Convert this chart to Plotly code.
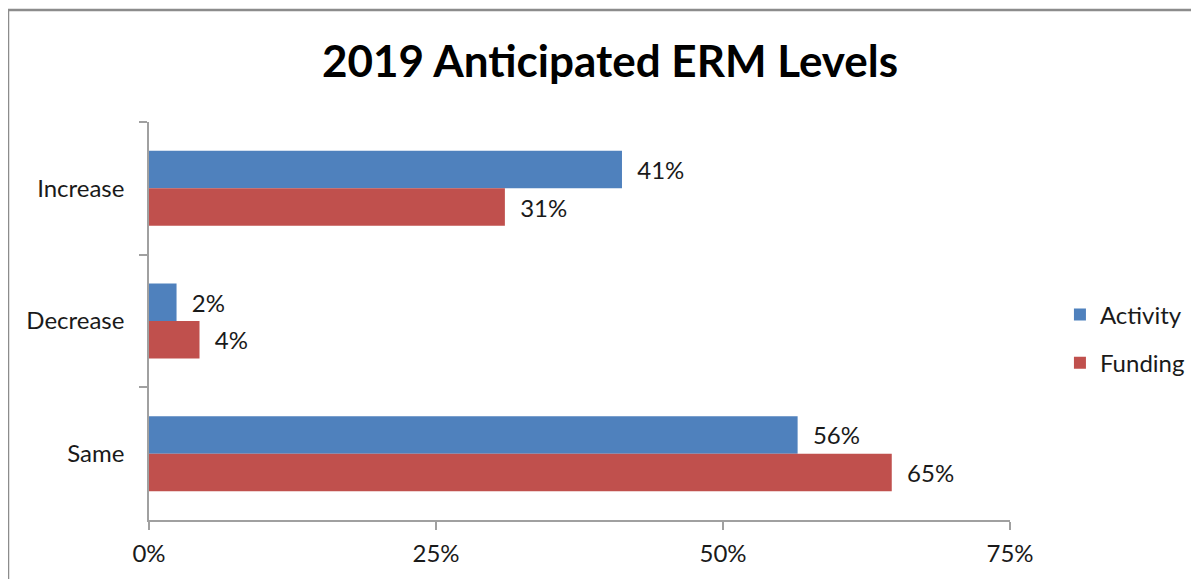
import plotly.graph_objects as go

# Daten
categories = ["Increase", "Decrease", "Same"]
activity = [0.412, 0.024, 0.565]
funding = [0.31, 0.044, 0.647]
x_ticks = [0, 0.25, 0.5, 0.75]

BLUE = "#4F81BD"
RED = "#C0504D"
AXIS = "#A0A0A0"
FONT = "Lato"

fig = go.Figure()
for name, vals, col in [("Activity", activity, BLUE), ("Funding", funding, RED)]:
    fig.add_trace(go.Bar(
        y=categories, x=vals, name=name, orientation="h",
        marker=dict(color=col, line=dict(width=0)),
        texttemplate="\u00a0\u00a0%{x:.0%}", textposition="outside",
        textfont=dict(family=FONT, size=24, color="#1a1a1a"),
        cliponaxis=False, legendgroup=name,
    ))

# Seite hat 8px Body-Rand -> Figur etwas kleiner
fig.update_layout(
    width=1191, height=571,
    margin=dict(l=141, r=189, t=114, b=59, autoexpand=False),
    paper_bgcolor="white", plot_bgcolor="white",
    barmode="group", bargap=0.435, bargroupgap=0,
    font=dict(family=FONT, size=24, color="#1a1a1a"),
    title=dict(text="<b>2019 Anticipated ERM Levels</b>", x=0.5055, xanchor="center",
               y=0.9054, yanchor="middle", font=dict(family=FONT, size=44, color="black")),
    legend=dict(x=1.058, xanchor="left", y=0.455, yanchor="middle",
                traceorder="grouped", tracegroupgap=14,
                font=dict(family=FONT, size=24, color="#1a1a1a"),
                itemwidth=30),
    showlegend=True,
)

fig.update_xaxes(range=[0, 0.75], tickvals=x_ticks, tickformat=".0%", automargin=False,
                 showgrid=False, zeroline=False, showline=True, linecolor=AXIS, linewidth=1.5,
                 ticks="outside", ticklen=8, tickcolor=AXIS, tickwidth=1.5,
                 ticklabelstandoff=3, tickfont=dict(size=24))
fig.update_yaxes(autorange="reversed", automargin=False, showgrid=False, showline=True,
                 linecolor=AXIS, linewidth=1.5,
                 ticks="outside", ticklen=8, tickcolor=AXIS, tickwidth=1.5, tickson="boundaries",
                 ticklabelstandoff=18, tickfont=dict(size=24))

# Rahmen um das Diagramm (rechts und unten abgeschnitten)
fig.add_shape(type="rect", xref="paper", yref="paper",
              x0=-141 / 861, x1=1.4,
              y0=-0.2, y1=(512 - 2) / 398,
              line=dict(color="#8C8C8C", width=2.5), layer="below")

fig.write_html("out.html")
